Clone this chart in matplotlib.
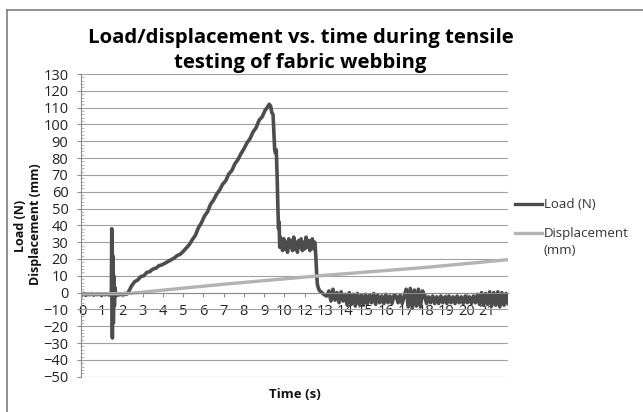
import numpy as np
import matplotlib
matplotlib.use('Agg')
import matplotlib.pyplot as plt
from matplotlib.lines import Line2D

plt.rcParams['font.family'] = ['Open Sans', 'DejaVu Sans']

# x axis is the chart's category axis; label 11 is skipped in the original
x_labels = ['0', '1', '2', '3', '4', '5', '6', '7', '8', '9', '10',
            '12', '13', '14', '15', '16', '17', '18', '19', '20', '21']

# Load (N) - flat start
base_load = [-1.0, -0.4, -1.6, -0.7, -1.3, -0.5, -1.5, -0.9, -1.2, -0.6,
             -1.6, -0.8, -1.3, -0.7, -1.4, -1.0]
spike_t = [1.45, 1.47, 1.50, 1.52, 1.55, 1.57, 1.60, 1.63, 1.67, 1.72]
spike_load = [-1, 38, -27, 22, -18, 10, -8, 3, -2, -1]
base2_load = [-0.8, -1.4, -0.6, -1.2, -0.7, -1.3, -0.5, -1.1, -0.4]

# loading ramp, peak and first drop
rise_t = [2.3, 2.45, 2.6, 2.75, 2.9, 3.05, 3.2, 3.35, 3.5, 3.65, 3.8, 3.95,
          4.1, 4.25, 4.4, 4.55, 4.7, 4.85, 5.0, 5.15, 5.3, 5.45, 5.6, 5.75,
          5.9, 6.05, 6.2, 6.35, 6.5, 6.65, 6.8, 6.95, 7.1, 7.25, 7.4, 7.55,
          7.7, 7.85, 8.0, 8.15, 8.3, 8.45, 8.6, 8.75, 8.9, 9.05, 9.15, 9.25,
          9.32, 9.38, 9.44, 9.48, 9.52, 9.56, 9.6, 9.64, 9.68, 9.71, 9.74,
          9.77, 9.8]
rise_load = [0.5, 4, 6.5, 7.5, 9.5, 10, 12, 12.5, 14, 14.5, 16, 16.5,
             17.5, 18.5, 19.5, 20.5, 22, 22.8, 24.5, 26.5, 28.5, 31.5, 34, 38.5,
             41.5, 45.5, 48, 52.5, 55, 58.5, 61, 64.5, 66.5, 70.5, 72.5, 76.5,
             79, 82.5, 85.5, 89, 91.5, 95.5, 98, 102.5, 104.5, 108.5, 110, 112,
             111, 107, 106, 95, 85, 83, 85, 70, 50, 38, 42,
             27, 33]

# plateau after first break
plateau_load = [30, 25, 32, 26, 30, 24, 32, 27, 31, 25, 33, 26, 30, 24, 31,
                27, 32, 25, 30, 26, 33, 27, 31, 25, 30, 32, 26, 30]
drop_t = [11.52, 11.56, 11.6, 11.63, 11.67, 11.72, 11.8, 11.9, 12.0, 12.1]
drop_load = [28, 20, 10, 5, 3, 1.5, 0.5, -0.5, -1.5, -2]

# noisy tail after full break
tail_load = [1, -5, 2, -4.5, 0, -6, 0.5, -5,
             -1, -7.5, 0, -7, -1, -8, -0.5, -7, -1.5, -7.5,
             -1, -6.5, -1.5, -6, -0.5, -7, -1.5, -6, -2, -6.5, -1, -6, -2, -6.5, -1.5,
             -2, -6, -1.5, -6.5, -2,
             2, -8.5, 2.5, -9, 1.5, -8, 2, -8.5, 1,
             -2, -6.5, -2.5, -6, -2, -6.5, -2.5, -6.5, -2, -6, -2.5, -6.5, -2,
             -6, -2.5, -6.5, -2, -6, -2.5, -6.5, -2, -6, -2.5, -6.5, -2, -6,
             -1, -7, 0, -7.5, -0.5, -7, 0.5, -8, 0, -7.5, 0.5, -8.5, 0, -7.5,
             -0.5, -6.5]

# Displacement (mm)
disp_t = [0, 2.25, 7, 12, 17, 21.05]
disp_mm = [-0.8, -0.6, 5, 10.3, 15, 19.6]

t_load = np.concatenate([np.linspace(0, 1.42, len(base_load)), spike_t,
                         np.linspace(1.75, 2.25, len(base2_load)), rise_t,
                         np.linspace(9.85, 11.5, len(plateau_load)), drop_t,
                         np.linspace(12.2, 21.05, len(tail_load))])
load = np.concatenate([base_load, spike_load, base2_load, rise_load,
                       plateau_load, drop_load, tail_load])

W, H = 643, 412
fig = plt.figure(figsize=(6.43, 4.12), dpi=100)
ax = fig.add_axes([81 / W, 1 - 376.7 / H, 427 / W, 302.7 / H])

ax.plot(t_load, load, color='#4d4d4d', lw=2.6, label='Load (N)')
ax.plot(disp_t, disp_mm, color='#b3b3b3', lw=2.4, label='Displacement (mm)')

ax.set_xlim(-0.05, 21.05)
ax.set_ylim(-50, 130)
ax.set_yticks(np.arange(-50, 131, 10))
ax.set_yticks(np.arange(-50, 131, 2), minor=True)
ax.set_xticks(np.arange(0, 22))
ax.set_xticklabels(x_labels + [''])
ax.grid(axis='y', color='#a0a0a0', lw=0.8)
ax.set_axisbelow(True)

for s in ['top', 'right']:
    ax.spines[s].set_visible(False)
ax.spines['bottom'].set_position(('data', 0))
ax.spines['bottom'].set_color('#8c8c8c')
ax.spines['left'].set_color('#8c8c8c')
ax.tick_params(axis='x', direction='out', length=3, color='#8c8c8c', pad=5,
               labelsize=10.5, labelcolor='#222222')
ax.tick_params(axis='y', which='major', direction='out', length=3, color='#8c8c8c',
               pad=6, labelsize=10.5, labelcolor='#222222')
ax.tick_params(axis='y', which='minor', direction='in', length=2.5, color='#b0b0b0')

# titles and axis labels
fig.text(301 / W, 1 - 43 / H, 'Load/displacement vs. time during tensile',
         ha='center', va='baseline', fontsize=14.7, fontweight='bold', color='black')
fig.text(300 / W, 1 - 68 / H, 'testing of fabric webbing',
         ha='center', va='baseline', fontsize=14.7, fontweight='bold', color='black')
fig.text(20 / W, 1 - 226 / H, 'Load (N)', rotation=90, ha='center', va='center',
         fontsize=9, fontweight='bold', color='#111111')
fig.text(36 / W, 1 - 224 / H, 'Displacement (mm)', rotation=90, ha='center', va='center',
         fontsize=9, fontweight='bold', color='#111111')
fig.text(295 / W, 1 - 394 / H, 'Time (s)', ha='center', va='center',
         fontsize=9.5, fontweight='bold', color='#111111')

# legend drawn by hand to keep Excel layout
fig.add_artist(Line2D([515 / W, 542 / W], [1 - 204 / H, 1 - 204 / H],
                      color='#4d4d4d', lw=2.4))
fig.text(544 / W, 1 - 204 / H, 'Load (N)', va='center', fontsize=9.5, color='#333333')
fig.add_artist(Line2D([515 / W, 542 / W], [1 - 233 / H, 1 - 233 / H],
                      color='#b3b3b3', lw=2.4))
fig.text(544 / W, 1 - 233 / H, 'Displacement', va='center', fontsize=9.5, color='#333333')
fig.text(544 / W, 1 - 251 / H, '(mm)', va='center', fontsize=9.5, color='#333333')

# chart border (partially visible in the original)
fig.add_artist(Line2D([7 / W, 1], [1 - 10 / H, 1 - 10 / H], color='#7f7f7f', lw=1.2))
fig.add_artist(Line2D([7 / W, 7 / W], [0, 1 - 10 / H], color='#7f7f7f', lw=1.2))

fig.savefig('out.png', dpi=100)
